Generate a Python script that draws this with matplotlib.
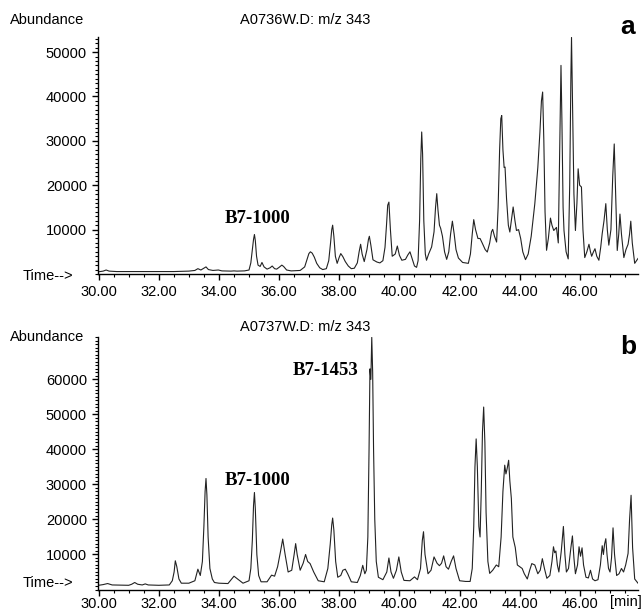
import matplotlib
matplotlib.use("Agg")
import matplotlib.pyplot as plt
from matplotlib.ticker import MultipleLocator, FixedLocator

# ---------------- data ----------------
time_a = [30.00, 30.15, 30.25, 30.35, 30.6, 31.5, 32.5, 33.0, 33.2, 33.3, 33.4, 33.5, 33.57, 33.65,
          33.8, 33.98, 34.1, 34.4, 34.5, 34.6, 34.85, 35.0, 35.06, 35.11, 35.15, 35.18, 35.21, 35.25,
          35.3, 35.37, 35.43, 35.5, 35.6, 35.7, 35.77, 35.85, 35.92, 36.0, 36.09, 36.15, 36.25,
          36.4, 36.7, 36.85, 36.93, 36.99, 37.04, 37.1, 37.17, 37.25, 37.35, 37.45, 37.57, 37.65,
          37.71, 37.75, 37.78, 37.82, 37.87, 37.93, 38.0, 38.05, 38.12, 38.2, 38.3, 38.4, 38.5,
          38.6, 38.66, 38.71, 38.76, 38.83, 38.92, 38.97, 39.0, 39.05, 39.12, 39.25, 39.35, 39.45,
          39.52, 39.57, 39.61, 39.65, 39.7, 39.76, 39.86, 39.93, 40.0, 40.08, 40.2, 40.28, 40.35,
          40.42, 40.5, 40.57, 40.62, 40.67, 40.71, 40.74, 40.77, 40.81, 40.86, 40.9, 40.97, 41.07,
          41.15, 41.2, 41.24, 41.28, 41.33, 41.37, 41.43, 41.5, 41.57, 41.64, 41.7, 41.76, 41.82,
          41.88, 41.96, 42.1, 42.29, 42.36, 42.42, 42.47, 42.53, 42.61, 42.68, 42.75, 42.85, 42.92,
          43.0, 43.06, 43.1, 43.16, 43.23, 43.28, 43.33, 43.37, 43.4, 43.44, 43.48, 43.51, 43.56,
          43.62, 43.67, 43.73, 43.78, 43.84, 43.89, 43.96, 44.03, 44.1, 44.19, 44.28, 44.38, 44.5,
          44.6, 44.67, 44.72, 44.76, 44.8, 44.84, 44.89, 44.95, 45.02, 45.07, 45.13, 45.22, 45.28,
          45.32, 45.35, 45.37, 45.4, 45.44, 45.47, 45.54, 45.61, 45.66, 45.7, 45.72, 45.75, 45.8,
          45.85, 45.9, 45.94, 45.99, 46.05, 46.1, 46.16, 46.23, 46.3, 46.35, 46.39, 46.45, 46.5,
          46.56, 46.63, 46.69, 46.74, 46.8, 46.86, 46.91, 46.96, 47.03, 47.09, 47.14, 47.18, 47.24,
          47.29, 47.33, 47.38, 47.46, 47.53, 47.6, 47.65, 47.69, 47.74, 47.82, 47.93]
abund_a = [500, 650, 900, 650, 550, 550, 550, 650, 800, 1200, 900, 1300, 1600, 1000,
           800, 900, 700, 650, 700, 650, 700, 900, 2500, 5500, 7800, 8900, 7500, 4000,
           2000, 1700, 2600, 1600, 1100, 1400, 1800, 1200, 1100, 1500, 2000, 1700, 900,
           700, 800, 1600, 3300, 4600, 5000, 4700, 3800, 2400, 1400, 1000, 1200, 3000,
           7000, 10000, 11000, 8500, 4000, 2400, 3800, 4600, 3900, 2800, 1800, 1200, 1300,
           2500, 5000, 6700, 4500, 2800, 5500, 7800, 8500, 6500, 3200, 2700, 2500, 3000,
           6000, 11000, 15500, 16200, 10000, 4000, 4500, 6300, 4200, 3100, 3300, 4300, 5000,
           3500, 1800, 1500, 3000, 12000, 26000, 32000, 27000, 12000, 4500, 3100, 4500, 6100,
           9500, 15000, 18100, 14500, 11000, 10300, 8500, 5000, 3300, 5000, 9000, 11900, 9000,
           5500, 3600, 2600, 2400, 4500, 9000, 12250, 10000, 8000, 8000, 7000, 5500, 4950,
           7000, 9500, 10060, 8500, 7200, 15000, 28000, 35000, 35700, 28000, 24000, 24100, 17000,
           11000, 9460, 12500, 15100, 12000, 9800, 10000, 8000, 5000, 3240, 4500, 8500, 15850,
           24000, 32000, 39000, 41000, 30000, 14000, 5340, 8000, 12600, 11000, 9800, 10500, 7000,
           25000, 40000, 47000, 35000, 15000, 9800, 5000, 3400, 20000, 45000, 53300, 40000, 18000,
           9800, 16000, 23700, 20000, 19600, 10000, 3700, 5000, 6700, 5000, 4000, 5000, 5700,
           4000, 3100, 6000, 9100, 12000, 15850, 10000, 6500, 10000, 22000, 29300, 20000, 5300,
           9000, 13500, 9000, 3700, 5500, 6700, 9000, 11900, 7000, 2400, 3500]

time_b = [30.00, 30.15, 30.3, 30.45, 31.0, 31.1, 31.2, 31.3, 31.45, 31.55, 31.65, 32.0, 32.35,
          32.45, 32.51, 32.55, 32.6, 32.67, 32.75, 33.0, 33.2, 33.3, 33.38, 33.45, 33.5, 33.54,
          33.57, 33.6, 33.64, 33.7, 33.78, 33.85, 34.0, 34.3, 34.5, 34.65, 34.8, 35.0, 35.06,
          35.11, 35.15, 35.18, 35.21, 35.26, 35.32, 35.4, 35.6, 35.75, 35.85, 35.95, 36.05, 36.12,
          36.2, 36.3, 36.42, 36.5, 36.55, 36.6, 36.7, 36.8, 36.88, 36.95, 37.03, 37.15, 37.3,
          37.5, 37.62, 37.7, 37.75, 37.78, 37.82, 37.88, 37.95, 38.05, 38.12, 38.2, 38.28, 38.4,
          38.6, 38.7, 38.78, 38.85, 38.9, 38.95, 38.99, 39.02, 39.05, 39.08, 39.11, 39.14, 39.18,
          39.23, 39.3, 39.45, 39.58, 39.65, 39.72, 39.8, 39.9, 39.98, 40.06, 40.15, 40.35, 40.5,
          40.6, 40.7, 40.76, 40.8, 40.85, 40.95, 41.05, 41.15, 41.25, 41.33, 41.4, 41.47, 41.55,
          41.63, 41.72, 41.8, 41.88, 42.0, 42.2, 42.35, 42.42, 42.47, 42.51, 42.55, 42.59, 42.64,
          42.68, 42.72, 42.76, 42.8, 42.84, 42.88, 42.94, 43.0, 43.1, 43.22, 43.3, 43.38, 43.44,
          43.5, 43.54, 43.58, 43.63, 43.67, 43.72, 43.77, 43.85, 43.92, 44.0, 44.08, 44.15, 44.25,
          44.33, 44.4, 44.5, 44.6, 44.68, 44.75, 44.82, 44.9, 45.0, 45.07, 45.12, 45.16, 45.2,
          45.25, 45.3, 45.38, 45.45, 45.5, 45.55, 45.62, 45.7, 45.75, 45.8, 45.85, 45.92, 45.97,
          46.02, 46.07, 46.12, 46.2, 46.28, 46.35, 46.42, 46.5, 46.6, 46.68, 46.74, 46.78, 46.82,
          46.86, 46.9, 46.95, 47.0, 47.05, 47.1, 47.15, 47.22, 47.3, 47.38, 47.45, 47.52, 47.6,
          47.65, 47.7, 47.75, 47.82, 47.93]
abund_b = [1200, 1400, 1700, 1300, 1200, 1500, 2000, 1500, 1300, 1600, 1300, 1200, 1300,
           2500, 5000, 8200, 6500, 3000, 1800, 1800, 2500, 5800, 4000, 8000, 18000, 28000,
           31700, 27000, 15000, 6000, 3000, 2000, 1800, 1700, 3800, 2800, 1800, 2500, 6000,
           14000, 24000, 27700, 23000, 10000, 4000, 2200, 2200, 4100, 3800, 6500, 11000, 14400,
           10000, 5000, 5500, 10000, 13100, 10000, 5500, 7500, 10000, 8000, 7400, 5000, 2500,
           2200, 6000, 13000, 18500, 20400, 17000, 8000, 3500, 4000, 5500, 5800, 4500, 2200,
           2000, 4000, 6900, 4500, 5500, 15000, 40000, 63000, 60000, 72000, 62000, 40000, 20000,
           8000, 3500, 2800, 5000, 9000, 5000, 3200, 5500, 9300, 5000, 2600, 2500, 3600,
           2800, 6000, 14000, 16500, 10000, 4500, 5500, 9300, 7500, 6800, 7500, 9600, 6500,
           5800, 8000, 9600, 6000, 2500, 2300, 2300, 6000, 18000, 35000, 43000, 35000, 18000,
           15000, 28000, 45000, 52100, 42000, 22000, 8000, 4600, 5500, 7000, 6500, 15000, 28000,
           35500, 33000, 34500, 36900, 31000, 26000, 15000, 12000, 7000, 6500, 6000, 4500,
           3000, 5500, 7400, 7000, 4500, 5500, 8800, 6000, 3200, 4000, 8000, 12200, 10500,
           11000, 7000, 5000, 11000, 18000, 10000, 5000, 6000, 12000, 15300, 9000, 4500, 7000,
           12200, 9500, 11900, 7000, 3500, 3300, 5500, 3000, 2500, 2800, 7000, 12500, 10000,
           13000, 14500, 10000, 6000, 5000, 9000, 17600, 10000, 4000, 4500, 6000, 5000, 7000,
           10300, 20000, 26900, 12000, 3000, 1800]

# ---------------- figure ----------------
W, H = 643, 614
fig = plt.figure(figsize=(W / 100, H / 100), dpi=100)
plt.rcParams['font.family'] = ['Liberation Sans', 'DejaVu Sans']

def fx(px):
    return px / W

def fy(py):
    return 1 - py / H

def make_axes(top, bottom, ymax, ymin, yticks, xpad):
    ax = fig.add_axes([fx(98), fy(bottom), fx(638) - fx(98), fy(top) - fy(bottom)])
    ax.set_xlim(29.98, 47.93)
    ax.set_ylim(ymin, ymax)
    for s in ('top', 'right'):
        ax.spines[s].set_visible(False)
    for s in ('left', 'bottom'):
        ax.spines[s].set_linewidth(1.0)
    ax.xaxis.set_minor_locator(MultipleLocator(0.5))
    ax.yaxis.set_major_locator(FixedLocator(yticks))
    ax.yaxis.set_minor_locator(MultipleLocator(1000))
    ax.tick_params(axis='both', which='major', length=4, width=1.0, labelsize=10.5)
    ax.tick_params(axis='both', which='minor', length=2, width=0.8)
    ax.tick_params(axis='y', pad=4)
    ax.tick_params(axis='x', pad=xpad)
    xt = [30, 32, 34, 36, 38, 40, 42, 44, 46]
    ax.set_xticks(xt)
    ax.set_xticklabels(['%.2f' % v for v in xt])
    ax.set_yticklabels([str(v) for v in yticks])
    return ax

ax1 = make_axes(37, 274, 53400, 0, [10000, 20000, 30000, 40000, 50000], 4)
ax1.plot(time_a, abund_a, color='#222222', lw=0.8)

ax2 = make_axes(337, 589.5, 72100, 0, [10000, 20000, 30000, 40000, 50000, 60000], 1.5)
ax2.plot(time_b, abund_b, color='#222222', lw=0.8)

# texts
fs = 10.5
fig.text(fx(10), fy(20), 'Abundance', fontsize=fs, va='center', ha='left')
fig.text(fx(305), fy(20), 'A0736W.D: m/z 343', fontsize=fs, va='center', ha='center')
fig.text(fx(628), fy(27), 'a', fontsize=19, fontweight='bold', va='center', ha='center')
fig.text(fx(23), fy(276), 'Time-->', fontsize=fs, va='center', ha='left')

fig.text(fx(10), fy(337), 'Abundance', fontsize=fs, va='center', ha='left')
fig.text(fx(305), fy(327), 'A0737W.D: m/z 343', fontsize=fs, va='center', ha='center')
fig.text(fx(628), fy(347), 'b', fontsize=19, fontweight='bold', va='center', ha='center')
fig.text(fx(23), fy(583), 'Time-->', fontsize=fs, va='center', ha='left')
fig.text(fx(642), fy(602), '[min]', fontsize=fs, va='center', ha='right')

serif = dict(family=['Liberation Serif', 'DejaVu Serif'], fontweight='bold', fontsize=13.5,
             ha='center', va='center')
ax1.text(35.3, 12600, 'B7-1000', **serif)
ax2.text(35.3, 31200, 'B7-1000', **serif)
ax2.text(37.55, 62400, 'B7-1453', **serif)

fig.savefig('out.png', dpi=100)
